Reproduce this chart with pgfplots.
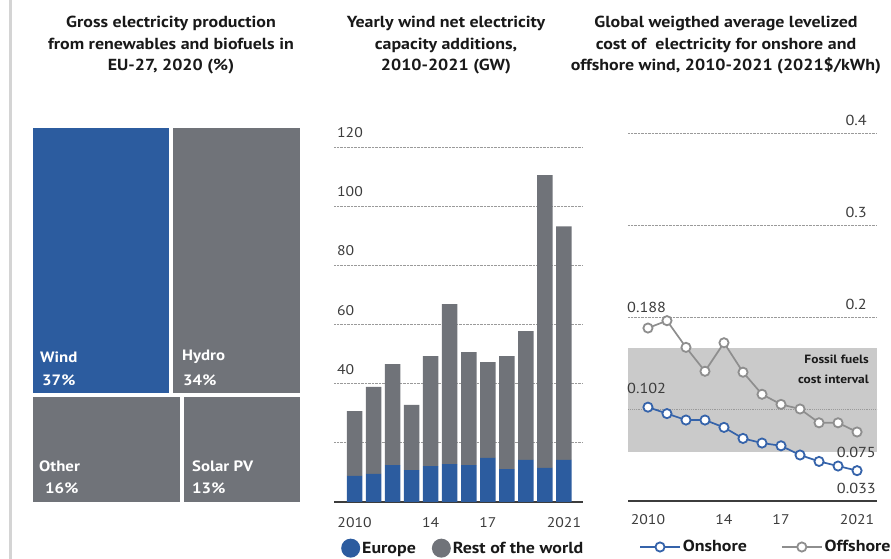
\documentclass[border=0pt]{standalone}
\usepackage{fontspec}
\setmainfont{PT Sans}[FakeStretch=1.12]
\usepackage{pgfplots}
\pgfplotsset{compat=1.18}

\definecolor{eublue}{HTML}{2C5C9F}
\definecolor{rowgray}{HTML}{707379}
\definecolor{onblue}{HTML}{3563AA}
\definecolor{offgray}{HTML}{8E8E8E}
\definecolor{band}{HTML}{CACACA}
\definecolor{txt}{HTML}{3C3C3C}
\definecolor{gridc}{HTML}{9A9A9A}

\pgfplotsset{
  dotlegend/.style={legend image code/.code={\fill[#1] (0pt,0pt) circle (9.5pt);}},
  linelegend/.style={legend image code/.code={\draw[##1,mark repeat=2,mark phase=2] plot coordinates {(0pt,0pt) (20pt,0pt) (40pt,0pt)};}},
}

\newcommand{\fs}[1]{\fontsize{#1}{#1}\selectfont}

\begin{document}
\begin{tikzpicture}[x=1pt,y=1pt]
\useasboundingbox (0,0) rectangle (891,559);

% thin frame line at the left
\draw[color=black!17, line width=3pt] (10,0) -- (10,559);

% titles
\begin{scope}[every node/.style={anchor=north, align=center, inner sep=0pt,
    font=\bfseries\fontsize{16}{21.5}\selectfont, text=black!90}]
\node at (171,543) {Gross electricity production\\from renewables and biofuels in\\EU-27, 2020 (\%)};
\node at (446,543) {Yearly wind net electricity\\capacity additions,\\2010-2021 (GW)};
\node at (726,543) {Global weigthed average levelized\\cost of\ \ electricity for onshore and\\offshore wind, 2010-2021 (2021\$/kWh)};
\end{scope}

% ---------- treemap ----------
\begin{axis}[at={(31pt,55pt)}, anchor=south west, scale only axis,
  width=271pt, height=378pt,
  xmin=0, xmax=100, ymin=0, ymax=100, hide axis, clip=false]
\addplot[fill=eublue, draw=white, line width=4pt] coordinates {(0,28.8) (51.5,28.8) (51.5,100) (0,100)} --cycle;
\addplot[fill=rowgray, draw=white, line width=4pt] coordinates {(51.5,28.8) (100,28.8) (100,100) (51.5,100)} --cycle;
\addplot[fill=rowgray, draw=white, line width=4pt] coordinates {(0,0) (55.7,0) (55.7,28.8) (0,28.8)} --cycle;
\addplot[fill=rowgray, draw=white, line width=4pt] coordinates {(55.7,0) (100,0) (100,28.8) (55.7,28.8)} --cycle;
\end{axis}
\begin{scope}[every node/.style={anchor=west, inner sep=0pt, text=white, font=\bfseries\fs{15}}]
\node at (40,202) {Wind};
\node at (42,179) {37\%};
\node at (182,202) {Hydro};
\node at (183,179) {34\%};
\node at (39,93) {Other};
\node at (45,71) {16\%};
\node at (192,93) {Solar PV};
\node at (192,71) {13\%};
\end{scope}

% ---------- stacked bars ----------
\begin{axis}[at={(334pt,57pt)}, anchor=south west, scale only axis,
  width=249pt, height=355pt,
  ybar stacked, bar width=15.5pt,
  xmin=2008.92, xmax=2022.0, ymin=0, ymax=120,
  axis lines*=left,
  y axis line style={draw=none},
  x axis line style={draw=txt, line width=1.6pt},
  xtick={2010,2014,2017,2021}, xticklabels={2010,14,17,2021},
  ytick={20,40,...,120}, yticklabels={,40,60,80,100,120},
  major tick length=0pt,
  ymajorgrids, grid style={gridc, densely dotted, line width=0.9pt},
  /pgf/number format/assume math mode=true,
  tick label style={font=\fs{14}, text=txt},
  xticklabel style={anchor=north, inner sep=0pt, yshift=-15pt},
  yticklabel style={anchor=south west, inner sep=0pt, xshift=3pt, yshift=9pt},
  legend columns=2,
  legend cell align=left,
  legend style={at={(0.016,-0.13)}, anchor=west, draw=none, fill=none,
    font=\bfseries\fs{16}, text=black!90,
    /tikz/every even column/.append style={column sep=14pt}},
]
\addplot[fill=eublue, draw=none, dotlegend=eublue] coordinates {
  (2010,8.8) (2011,9.5) (2012,12.5) (2013,10.8) (2014,12.1) (2015,12.8)
  (2016,12.5) (2017,14.9) (2018,11.1) (2019,14.2) (2020,11.5) (2021,14.2)};
\addlegendentry{Europe}
\addplot[fill=rowgray, draw=none, dotlegend=rowgray] coordinates {
  (2010,21.9) (2011,29.4) (2012,34.1) (2013,22.0) (2014,37.2) (2015,54.1)
  (2016,38.2) (2017,32.4) (2018,38.2) (2019,43.6) (2020,99.0) (2021,79.0)};
\addlegendentry{Rest of the world}
\end{axis}

% ---------- LCOE lines ----------
\begin{axis}[at={(628pt,58pt)}, anchor=south west, scale only axis,
  width=249pt, height=368pt,
  xmin=2008.95, xmax=2022.05, ymin=0, ymax=0.4,
  axis x line*=bottom, axis y line*=right,
  y axis line style={draw=none},
  x axis line style={draw=txt, line width=1.6pt},
  xtick={2010,2014,2017,2021}, xticklabels={2010,14,17,2021},
  ytick={0.1,0.2,0.3,0.4},
  major tick length=0pt,
  ymajorgrids, grid style={gridc, densely dotted, line width=0.9pt},
  /pgf/number format/assume math mode=true,
  tick label style={font=\fs{14}, text=txt},
  xticklabel style={anchor=north, inner sep=0pt, yshift=-13pt},
  yticklabel style={anchor=south east, inner sep=0pt, xshift=-10pt, yshift=7pt,
    font=\fs{14.5}, /pgf/number format/fixed},
  legend columns=2,
  legend cell align=left,
  legend style={at={(0.032,-0.125)}, anchor=west, draw=none, fill=none,
    font=\bfseries\fs{16}, text=black!90,
    /tikz/every even column/.append style={column sep=32pt}},
]
\addplot[fill=band, draw=none, forget plot] coordinates {
  (2008.95,0.053) (2022.05,0.053) (2022.05,0.166) (2008.95,0.166)} --cycle;
\draw[gridc, densely dotted, line width=0.9pt] (axis cs:2008.95,0.1) -- (axis cs:2022.05,0.1);
\addplot[onblue, line width=1.7pt, mark=*, mark size=4.6pt,
  mark options={fill=white, draw=onblue, line width=1.8pt}, linelegend] coordinates {
  (2010,0.102) (2011,0.095) (2012,0.088) (2013,0.088) (2014,0.080) (2015,0.068)
  (2016,0.063) (2017,0.060) (2018,0.050) (2019,0.043) (2020,0.038) (2021,0.033)};
\addlegendentry{Onshore}
\addplot[offgray, line width=1.7pt, mark=*, mark size=4.6pt,
  mark options={fill=white, draw=offgray, line width=1.8pt}, linelegend] coordinates {
  (2010,0.188) (2011,0.196) (2012,0.167) (2013,0.141) (2014,0.172) (2015,0.140)
  (2016,0.116) (2017,0.105) (2018,0.100) (2019,0.085) (2020,0.085) (2021,0.075)};
\addlegendentry{Offshore}
\end{axis}

\begin{scope}[every node/.style={inner sep=0pt, text=txt, font=\fs{14.5}}]
\node[anchor=west] at (627,252) {0.188};
\node[anchor=west] at (627,171) {0.102};
\node[anchor=east] at (876,107) {0.075};
\node[anchor=east] at (876,71) {0.033};
\node[anchor=east, text=black!90, font=\bfseries\fs{12}] at (869,200) {Fossil fuels};
\node[anchor=east, text=black!90, font=\bfseries\fs{12}] at (869,180) {cost interval};
\end{scope}

\end{tikzpicture}
\end{document}
